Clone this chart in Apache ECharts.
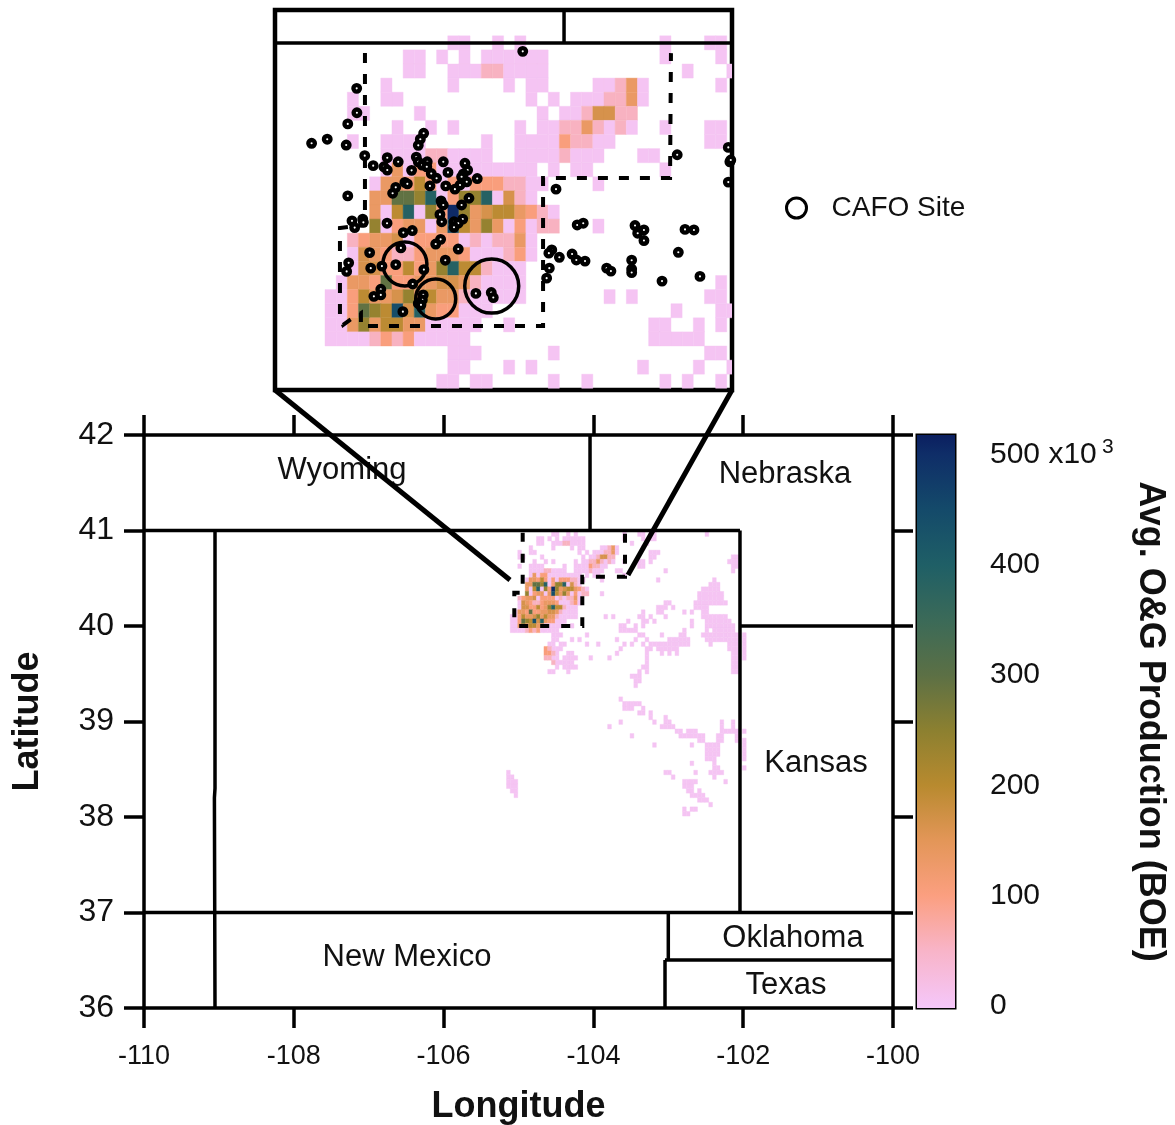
<!DOCTYPE html>
<html>
<head>
<meta charset="utf-8">
<style>html,body{margin:0;padding:0;background:#fff}#chart{width:1175px;height:1125px}</style>
<script src="https://cdn.jsdelivr.net/npm/echarts@6/dist/echarts.min.js"></script>
</head>
<body>
<div id="chart"></div>
<script>
// ---------- data ----------
const lonTicks = [-110, -108, -106, -104, -102, -100];
const latTicks = [36, 37, 38, 39, 40, 41, 42];
const colorTicks = [0, 100, 200, 300, 400, 500];
const seriesName = 'CAFO Site';
const axisNames = { x: 'Longitude', y: 'Latitude', color: 'Avg. O&G Production (BOE)' };

// colour scale (value in 10^3 BOE)
const scaleValues = [-2, 0, 50, 100, 150, 200, 250, 300, 350, 400, 450, 500, 518];
const scaleColors = ['#f6c8fa', '#f5c6f8', '#f8b4c8', '#fb9f80', '#e39658', '#b88a2f', '#8c8030', '#5c7045', '#3b6a58', '#1f5f66', '#144a6a', '#0f2e68', '#0b1f60'];

// grid of production cells
const cellLon = 0.05, cellLat = 0.048, gridLon = -105.11, gridLatRow22 = 39.93;
const levelCodes = '.123456789ab';
const levelValues = [0, 5, 55, 105, 135, 165, 195, 240, 295, 390, 440, 505];
const productionRows = [
"...........11..1.1............1...11.",
".......11.1.1.111111..........1....1.",
".......11..111221111............1...1",
".....1.....1....1.11....11241......1.",
"..1..11...........1.1.1112241........",
"..11....1..........1.1125522.........",
"......1..1.1.....1.112242121..1...11.",
"..1..1111.....1..111132211........11.",
".....1111221111..11112111...11.......",
".....14133111111111.1.11......1......",
"....1443631313332211....1............",
"....448879137791521..................",
"....4169173b745664321................",
"....7134414a647413122...1............",
"..23445133331212241..................",
"..15432234443111231..................",
"..1553363479662111...................",
".14438334455421111.................1.",
"113644574644211111.......1.1......11.",
"113876a59433111................1...11",
"11474664411111..1............11..1.1.",
"1111232311111................11111...",
"...........111......1.............11.",
"...........11...1.1.........1....1..1",
"..........11.11.....1..1......1.1..1."
];
// low-production cells outside the inset: [row, [columns]]
const outerCells = [
[0,[37,38,52]],[1,[37,38]],[4,[37,38,39]],[5,[37,38,59,60]],[6,[37,58,59,60]],[7,[59,60]],[8,[41,59]],
[10,[39,54]],[11,[53,54,55]],[12,[51,52,53,54,55]],[13,[50,51,52,53,54,55,56]],[14,[50,51,52,53,54,55,56]],
[15,[41,42,49,50,51,52,53,54,55,56,57]],[16,[39,40,41,43,49,50,51,52]],[17,[39,40,46,48,51,52]],
[18,[37,41,51,52,53,54,55,56,57]],[19,[38,48,52,53,54,55,56,57,58]],[20,[48,52,53,54,55,56,57,58,59]],
[21,[46,52,54,55,56,57,58,59]],[22,[40,45,46,51,52,53,54,55,56,57,58,59,60,62]],
[23,[42,43,44,45,46,47,52,53,54,55,56,57,58,59,60,62]],[24,[37,38,39,40,41,42,43,44,45,46,47,53,58,59,60,62]],
[25,[11,12,13,29,36,37,39,40,41,42,43,44,58,59,60,62]],[26,[12,15,16,28,36,40,42,44,59,60,62]],
[27,[11,12,14,15,16,17,21,26,36,59,60,62]],[28,[12,13,14,15,16,36,59,60]],[29,[12,14,15,16,17,35,36,59,60]],
[30,[10,11,15,34,36,59,60]],[31,[32,33,34]],[32,[33,34]],[33,[33]],[36,[29]],[37,[30,31,32,33,34]],
[38,[30,31,32,35]],[39,[34,35,37]],[40,[37,41]],[41,[29,38,41,42,56,59]],[42,[26,40,41,42,43,56,59]],
[43,[44,45,47,48,49,56,57,58,59,60,62]],[44,[32,45,46,47,48,49,50,51,55,56,60]],[45,[50,51,55,56,60,62]],
[46,[38,48,52,53,54,55,62]],[47,[52,53,54,55,62]],[48,[52,53,54,55,62]],[49,[52,53,54,62]],[50,[48,54]],
[51,[54,55,62]],[52,[-1,41,42,49,53,54,55,56]],[53,[-1,0,43,54]],[54,[-1,0,1,46,47,48,49,57]],
[55,[-1,0,1,46,47,48]],[56,[0,1,47,48,50]],[57,[1,48,49,50,51]],[58,[50,51,52]],[59,[53]],[60,[46,48,49]],[61,[46,47]]
];
// mid-production cells south of the inset: [row, column, level]
const outerMidCells = [[25,9,3],[25,10,2],[26,9,3],[26,10,3],[26,11,2],[27,9,2],[27,10,2],[28,11,2]];

// CAFO sites [lon, lat]
const cafoSites = [
[-104.968,40.807],[-104.967,40.724],[-105.008,40.686],[-105.170,40.620],[-105.100,40.634],[-105.015,40.614],
[-104.932,40.578],[-104.831,40.571],[-104.846,40.540],[-104.831,40.529],[-104.782,40.557],[-104.722,40.528],
[-104.668,40.654],[-104.683,40.634],[-104.692,40.613],[-104.701,40.573],[-104.692,40.557],[-104.675,40.546],
[-104.652,40.557],[-104.654,40.540],[-104.634,40.517],[-104.610,40.501],[-104.580,40.557],[-104.559,40.521],
[-104.569,40.475],[-104.640,40.475],[-104.752,40.487],[-104.741,40.482],[-104.793,40.470],[-104.807,40.450],
[-105.008,40.441],[-104.483,40.552],[-104.471,40.529],[-104.490,40.516],[-104.475,40.489],[-104.428,40.500],
[-104.505,40.478],[-104.528,40.464],[-104.465,40.433],[-104.590,40.424],[-104.498,40.506],[-104.587,40.416],
[-104.580,40.410],[-104.498,40.410],[-104.595,40.378],[-104.587,40.353],[-104.532,40.353],[-104.493,40.362],
[-104.513,40.348],[-104.532,40.334],[-104.989,40.356],[-104.941,40.362],[-104.977,40.333],[-104.938,40.351],
[-104.832,40.348],[-104.759,40.316],[-104.719,40.323],[-104.770,40.264],[-104.592,40.293],[-104.614,40.277],
[-104.513,40.260],[-104.910,40.248],[-105.004,40.213],[-105.013,40.184],[-104.905,40.195],[-104.855,40.202],
[-104.793,40.207],[-104.571,40.222],[-104.667,40.190],[-104.717,40.141],[-104.860,40.123],[-104.860,40.104],
[-104.891,40.099],[-104.670,40.104],[-104.674,40.087],[-104.692,40.075],[-104.680,40.070],[-104.761,40.047],
[-104.434,40.109],[-104.365,40.112],[-104.356,40.095],[-103.980,40.342],[-103.953,40.348],[-103.721,40.340],
[-103.681,40.325],[-103.709,40.314],[-103.681,40.289],[-103.497,40.327],[-103.457,40.325],[-103.527,40.249],
[-103.430,40.167],[-103.600,40.151],[-103.736,40.222],[-103.736,40.192],[-103.736,40.180],[-103.848,40.195],
[-103.829,40.185],[-104.003,40.243],[-103.984,40.223],[-103.945,40.219],[-104.060,40.232],[-104.094,40.257],
[-104.107,40.246],[-104.105,40.195],[-104.117,40.161],[-104.224,40.933],[-103.532,40.581],[-104.075,40.464],
[-103.303,40.606],[-103.296,40.557],[-103.292,40.563],[-103.303,40.488],[-104.894,40.544]
];
// ringed areas in the inset [lon, lat, diameter in px]
const ringSites = [[-104.752,40.209,44],[-104.614,40.090,40],[-104.363,40.134,54]];

// state borders on the main map
const stateBorders = [
[[-110,41],[-102.043,41]],
[[-109.052,41],[-109.052,38.3],[-109.06,38.2],[-109.052,36]],
[[-102.043,41],[-102.043,37]],
[[-110,37],[-100,37]],
[[-102.043,40],[-100,40]],
[[-104.045,42],[-104.045,41]],
[[-103,37],[-103,36.5]],
[[-103.044,36.503],[-100,36.503]],
[[-103.044,36.503],[-103.044,36]]
];
const insetBorders = [
[[-105.334,40.9615],[-103.2865,40.9615]],
[[-104.039,41.0738],[-104.039,40.9615]]
];
// dashed study-area outline on the main map and on the inset
const mainOutline = [[-104.944,40.977],[-104.944,40.349],[-105.056,40.349],[-105.056,40.028],[-105.02,40],[-104.148,40],[-104.148,40.516],[-103.578,40.516],[-103.578,40.987]];
const insetOutline = [[-104.931,40.927],[-104.931,40.342],[-105.043,40.332],[-105.043,40.025],[-105.029,40.002],[-104.998,40.019],[-104.949,40.042],[-104.949,39.998],[-104.133,39.998],[-104.133,40.502],[-103.564,40.502],[-103.560,40.927]];

const stateLabels = [
['Wyoming',-107.356,41.633],['Nebraska',-101.442,41.592],['Kansas',-101.028,38.565],
['New Mexico',-106.489,36.534],['Oklahoma',-101.335,36.733],['Texas',-101.429,36.241]
];

// ---------- helpers ----------
const FONT = '"Liberation Sans", Arial, sans-serif';
function hexToRgb(h){return [1,3,5].map(i=>parseInt(h.substr(i,2),16));}
function valueColor(v){
  for(let i=1;i<scaleValues.length;i++){
    if(v<=scaleValues[i]){
      const t=(v-scaleValues[i-1])/(scaleValues[i]-scaleValues[i-1]);
      const a=hexToRgb(scaleColors[i-1]),b=hexToRgb(scaleColors[i]);
      return 'rgb('+a.map((x,k)=>Math.round(x+(b[k]-x)*t)).join(',')+')';
    }
  }
  return scaleColors[scaleColors.length-1];
}
function cellOf(row,col,value){return [gridLon+col*cellLon, gridLatRow22+(21-row)*cellLat, value];}
const insetCells=[];
productionRows.forEach((s,r)=>{for(let j=0;j<s.length;j++){const k=levelCodes.indexOf(s[j]);if(k>0)insetCells.push(cellOf(r,j,levelValues[k]));}});
const mainCells=insetCells.slice();
outerCells.forEach(([r,cols])=>cols.forEach(j=>mainCells.push(cellOf(r,j,levelValues[1]))));
outerMidCells.forEach(([r,j,l])=>mainCells.push(cellOf(r,j,levelValues[l])));

function renderCell(params,api){
  const lon=api.value(0),lat=api.value(1);
  const p0=api.coord([lon,lat+cellLat]),p1=api.coord([lon+cellLon,lat]);
  const c=valueColor(api.value(2));
  return {type:'rect',shape:{x:p0[0],y:p0[1],width:p1[0]-p0[0],height:p1[1]-p0[1]},style:{fill:c,stroke:c,lineWidth:0.4}};
}
function heatSeries(data,xi,yi){
  return {type:'custom',xAxisIndex:xi,yAxisIndex:yi,data:data,clip:true,silent:true,z:1,renderItem:renderCell,encode:{x:0,y:1}};
}
function lineSeries(points,xi,yi,width,dash,z){
  return {type:'line',xAxisIndex:xi,yAxisIndex:yi,data:points,symbol:'none',silent:true,z:z||3,clip:false,
    lineStyle:{color:'#000',width:width,type:dash||'solid',cap:'butt',join:'miter',opacity:1}};
}
const axisText={color:'#111',fontFamily:FONT};

const series=[
  heatSeries(mainCells,0,0),
  heatSeries(insetCells,2,2),
];
stateBorders.forEach(b=>series.push(lineSeries(b,0,0,3.5)));
insetBorders.forEach(b=>series.push(lineSeries(b,2,2,3.5)));
series.push(lineSeries(mainOutline,0,0,4,[9,12],4));
series.push(lineSeries(insetOutline,2,2,4,[10,11],4));
series.push({type:'scatter',name:'ring',xAxisIndex:2,yAxisIndex:2,data:ringSites,silent:true,z:5,
  symbol:'circle',symbolSize:d=>d[2],itemStyle:{color:'rgba(0,0,0,0)',borderColor:'#000',borderWidth:3.5,opacity:1}});
series.push({type:'scatter',name:seriesName,xAxisIndex:2,yAxisIndex:2,data:cafoSites,silent:true,z:6,
  symbol:'circle',symbolSize:6.5,itemStyle:{color:'#fff',borderColor:'#000',borderWidth:4.4,opacity:1}});
series.push({type:'scatter',xAxisIndex:0,yAxisIndex:0,silent:true,z:7,symbolSize:0,itemStyle:{opacity:1},
  data:stateLabels.map(l=>({name:l[0],value:[l[1],l[2]]})),
  label:{show:true,position:'inside',formatter:'{b}',fontSize:31,fontFamily:FONT,color:'#111',opacity:1}});
// colour bar
series.push({type:'custom',xAxisIndex:3,yAxisIndex:3,data:[[0,scaleValues[0],scaleValues[scaleValues.length-1]]],silent:true,z:1,
  encode:{x:0,y:[1,2]},
  renderItem:function(params,api){
    const lo=api.value(1),hi=api.value(2);
    const p0=api.coord([0,hi]),p1=api.coord([1,lo]);
    return {type:'rect',shape:{x:p0[0],y:p0[1],width:p1[0]-p0[0],height:p1[1]-p0[1]},
      style:{fill:new echarts.graphic.LinearGradient(0,1,0,0,scaleValues.map((v,i)=>({offset:(v-lo)/(hi-lo),color:scaleColors[i]})))}};
  }});

const tickStyle={show:true,inside:false,length:20,lineStyle:{color:'#000',width:3.5}};
const lineStyle={show:true,onZero:false,lineStyle:{color:'#000',width:3.5}};

const option={
  animation:false,
  backgroundColor:'#fff',
  textStyle:{fontFamily:FONT},
  legend:{data:[{name:seriesName,icon:'circle'}],left:780,top:189,itemWidth:20,itemHeight:20,selectedMode:false,
    textStyle:{fontSize:28,fontFamily:FONT,color:'#111',padding:[0,0,0,20]},
    itemStyle:{color:'#fff',borderColor:'#000',borderWidth:3}},
  grid:[
    {left:144,top:435,width:749,height:573,show:false,outerBoundsMode:'none',containLabel:false},
    {left:275,top:10,width:457,height:380,show:true,borderColor:'#000',borderWidth:4.5,backgroundColor:'#fff',outerBoundsMode:'none'},
    {left:917,top:435,width:38,height:573,show:true,borderColor:'#000',borderWidth:3,backgroundColor:'transparent',outerBoundsMode:'none',containLabel:false}
  ],
  xAxis:[
    {type:'value',gridIndex:0,position:'bottom',min:lonTicks[0],max:lonTicks[lonTicks.length-1],interval:2,
     axisLine:lineStyle,axisTick:tickStyle,splitLine:{show:false},
     axisLabel:Object.assign({margin:35,fontSize:27},axisText),
     name:axisNames.x,nameLocation:'middle',nameGap:81,nameTextStyle:{fontSize:36,fontWeight:'bold',fontFamily:FONT,color:'#111'}},
    {type:'value',gridIndex:0,position:'top',min:lonTicks[0],max:lonTicks[lonTicks.length-1],interval:2,
     axisLine:lineStyle,axisTick:tickStyle,splitLine:{show:false},axisLabel:{show:false}},
    {type:'value',gridIndex:1,min:-105.334,max:-103.2865,show:false,splitLine:{show:false}},
    {type:'value',gridIndex:2,min:0,max:1,show:false,splitLine:{show:false}}
  ],
  yAxis:[
    {type:'value',gridIndex:0,position:'left',min:latTicks[0],max:latTicks[latTicks.length-1],interval:1,
     axisLine:lineStyle,axisTick:tickStyle,splitLine:{show:false},
     axisLabel:Object.assign({margin:30,fontSize:32},axisText),
     name:axisNames.y,nameLocation:'middle',nameGap:98,nameRotate:90,nameTextStyle:{fontSize:36,fontWeight:'bold',fontFamily:FONT,color:'#111'}},
    {type:'value',gridIndex:0,position:'right',min:latTicks[0],max:latTicks[latTicks.length-1],interval:1,
     axisLine:lineStyle,axisTick:tickStyle,splitLine:{show:false},axisLabel:{show:false}},
    {type:'value',gridIndex:1,min:39.7802,max:41.0738,show:false,splitLine:{show:false}},
    {type:'value',gridIndex:2,position:'right',min:scaleValues[0],max:scaleValues[scaleValues.length-1],
     axisLine:{show:false},splitLine:{show:false},
     axisTick:{show:true,inside:false,length:23,customValues:colorTicks,lineStyle:{color:'#000',width:2.5}},
     axisLabel:Object.assign({margin:35,fontSize:30,padding:[5,0,0,0],customValues:colorTicks,formatter:v=>v===500?'500 x10':String(v),align:'left'},axisText),
     name:axisNames.color,nameLocation:'middle',nameGap:177,nameRotate:-90,nameTextStyle:{fontSize:36,fontWeight:'bold',fontFamily:FONT,color:'#111'}}
  ],
  graphic:[
    {type:'line',silent:true,z:10,shape:{x1:275,y1:390,x2:510,y2:580},style:{stroke:'#000',lineWidth:5}},
    {type:'line',silent:true,z:10,shape:{x1:732,y1:390,x2:628,y2:575},style:{stroke:'#000',lineWidth:5}},
    {type:'text',silent:true,z:10,left:1102,top:437,style:{text:'3',fontSize:21,fontFamily:FONT,fill:'#111'}}
  ],
  series:series
};
echarts.init(document.getElementById('chart'),null,{renderer:'canvas'}).setOption(option);
</script>
</body>
</html>
